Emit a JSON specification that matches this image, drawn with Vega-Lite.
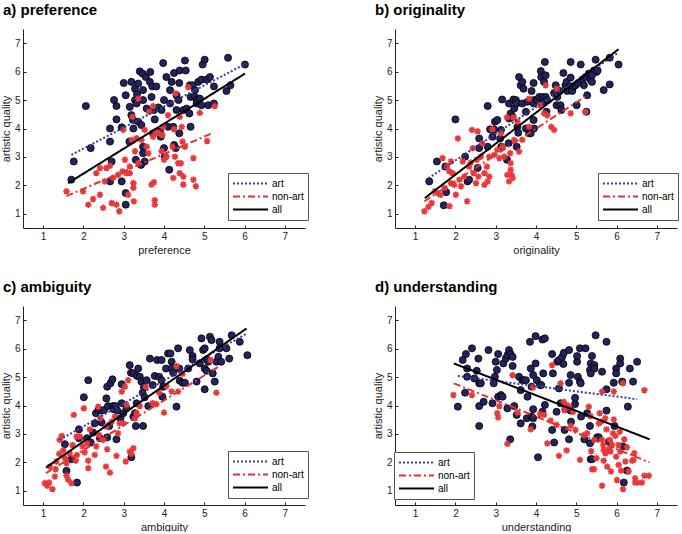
{
"$schema": "https://vega.github.io/schema/vega-lite/v6.json",
"padding": {"left": 0, "top": 3, "right": 0, "bottom": 0},
"config": {
  "font": "Liberation Sans",
  "view": {"stroke": null},
  "axis": {"grid": false, "domainColor": "#222222", "tickColor": "#222222", "tickSize": -3, "labelFontSize": 10, "labelColor": "#222222", "titleFontSize": 11, "titleFontWeight": "normal", "titleColor": "#222222", "labelPadding": 6, "titlePadding": 3},
  "title": {"fontSize": 15, "fontWeight": "bold", "anchor": "start", "frame": "group", "dx": -20, "offset": 11, "color": "#000000"},
  "legend": {"title": null, "orient": "none", "symbolType": "stroke", "symbolSize": 1225, "symbolStrokeWidth": 2, "clipHeight": 13, "labelFontSize": 10, "labelColor": "#000000", "strokeColor": "#555555", "fillColor": "#ffffff", "padding": 4, "labelOffset": 3, "rowPadding": 0}
},
"datasets": {
  "a_art": [{"x":1.70,"y":2.20},{"x":1.76,"y":2.84},{"x":2.06,"y":4.79},{"x":2.18,"y":3.31},{"x":2.66,"y":2.14},{"x":2.70,"y":2.84},{"x":2.66,"y":4.00},{"x":2.66,"y":3.54},{"x":2.76,"y":5.00},{"x":2.82,"y":4.79},{"x":2.82,"y":4.32},{"x":3.00,"y":5.60},{"x":3.05,"y":5.17},{"x":2.95,"y":4.04},{"x":2.95,"y":2.14},{"x":3.05,"y":1.73},{"x":3.05,"y":1.32},{"x":3.15,"y":4.76},{"x":3.19,"y":5.64},{"x":3.19,"y":4.47},{"x":3.23,"y":4.30},{"x":3.28,"y":5.40},{"x":3.28,"y":5.00},{"x":3.33,"y":5.21},{"x":3.32,"y":4.88},{"x":3.14,"y":3.54},{"x":3.30,"y":2.90},{"x":3.24,"y":4.00},{"x":3.36,"y":5.58},{"x":3.36,"y":4.24},{"x":3.40,"y":6.01},{"x":3.47,"y":5.93},{"x":3.48,"y":5.35},{"x":3.48,"y":5.00},{"x":3.44,"y":4.12},{"x":3.48,"y":3.36},{"x":3.48,"y":3.13},{"x":3.52,"y":2.84},{"x":3.43,"y":2.72},{"x":3.55,"y":5.81},{"x":3.57,"y":4.70},{"x":3.69,"y":5.11},{"x":3.66,"y":5.99},{"x":3.65,"y":5.64},{"x":3.71,"y":5.48},{"x":3.75,"y":4.65},{"x":3.73,"y":3.83},{"x":3.77,"y":4.32},{"x":3.81,"y":5.48},{"x":3.86,"y":4.74},{"x":3.90,"y":3.89},{"x":3.92,"y":3.71},{"x":3.94,"y":4.65},{"x":3.98,"y":6.30},{"x":4.00,"y":5.00},{"x":4.00,"y":3.31},{"x":4.02,"y":3.01},{"x":4.06,"y":5.81},{"x":4.15,"y":5.35},{"x":4.15,"y":4.88},{"x":4.10,"y":4.06},{"x":4.13,"y":2.55},{"x":4.19,"y":5.64},{"x":4.23,"y":4.06},{"x":4.25,"y":3.42},{"x":4.29,"y":3.31},{"x":4.25,"y":5.95},{"x":4.31,"y":5.17},{"x":4.31,"y":4.65},{"x":4.38,"y":3.83},{"x":4.38,"y":5.60},{"x":4.39,"y":6.04},{"x":4.36,"y":5.00},{"x":4.52,"y":6.39},{"x":4.54,"y":6.04},{"x":4.48,"y":4.65},{"x":4.56,"y":4.70},{"x":4.63,"y":4.53},{"x":4.64,"y":5.52},{"x":4.66,"y":5.11},{"x":4.66,"y":4.06},{"x":4.71,"y":5.52},{"x":4.77,"y":5.35},{"x":4.77,"y":5.11},{"x":4.81,"y":5.00},{"x":4.81,"y":4.88},{"x":4.89,"y":5.05},{"x":4.85,"y":5.64},{"x":4.93,"y":5.72},{"x":4.93,"y":4.82},{"x":4.96,"y":6.25},{"x":5.01,"y":6.42},{"x":5.06,"y":5.72},{"x":5.10,"y":4.82},{"x":5.14,"y":5.81},{"x":5.24,"y":5.48},{"x":5.24,"y":4.88},{"x":5.59,"y":6.49},{"x":5.55,"y":5.32},{"x":5.65,"y":5.52},{"x":6.01,"y":6.25}],
  "a_non": [{"x":1.58,"y":1.79},{"x":1.99,"y":1.79},{"x":2.12,"y":1.32},{"x":2.24,"y":1.52},{"x":2.32,"y":2.43},{"x":2.41,"y":1.67},{"x":2.41,"y":2.61},{"x":2.49,"y":1.21},{"x":2.53,"y":2.14},{"x":2.57,"y":2.61},{"x":2.70,"y":1.38},{"x":2.74,"y":2.26},{"x":2.82,"y":1.32},{"x":2.86,"y":2.37},{"x":2.89,"y":1.09},{"x":2.97,"y":2.49},{"x":3.03,"y":2.90},{"x":3.07,"y":2.43},{"x":3.11,"y":1.67},{"x":3.15,"y":2.43},{"x":3.15,"y":2.66},{"x":3.24,"y":2.08},{"x":3.25,"y":1.44},{"x":3.24,"y":1.91},{"x":3.28,"y":3.20},{"x":3.32,"y":3.66},{"x":3.36,"y":5.05},{"x":3.36,"y":2.78},{"x":3.44,"y":3.60},{"x":3.52,"y":3.95},{"x":3.57,"y":3.36},{"x":3.63,"y":4.59},{"x":3.61,"y":3.13},{"x":3.69,"y":2.03},{"x":3.75,"y":2.11},{"x":3.77,"y":1.48},{"x":3.77,"y":1.32},{"x":3.73,"y":4.79},{"x":3.73,"y":3.71},{"x":3.79,"y":3.89},{"x":3.88,"y":3.83},{"x":3.94,"y":3.20},{"x":3.96,"y":3.77},{"x":4.00,"y":2.90},{"x":4.06,"y":3.01},{"x":4.10,"y":4.47},{"x":4.21,"y":3.36},{"x":4.23,"y":2.26},{"x":4.25,"y":3.97},{"x":4.27,"y":3.01},{"x":4.29,"y":5.23},{"x":4.35,"y":2.78},{"x":4.39,"y":2.43},{"x":4.42,"y":2.78},{"x":4.39,"y":4.41},{"x":4.44,"y":4.06},{"x":4.46,"y":3.54},{"x":4.48,"y":2.03},{"x":4.48,"y":2.31},{"x":4.52,"y":3.36},{"x":4.60,"y":5.46},{"x":4.89,"y":4.55},{"x":4.73,"y":2.96},{"x":4.73,"y":2.20},{"x":4.79,"y":1.97},{"x":5.07,"y":3.56},{"x":5.26,"y":4.79},{"x":2.99,"y":3.95},{"x":3.98,"y":4.06},{"x":2.66,"y":2.69},{"x":3.20,"y":3.60},{"x":3.22,"y":4.41}],
  "a_lines": [{"s":"art","x":1.70,"y":3.07},{"s":"art","x":6.03,"y":6.28},{"s":"non-art","x":1.58,"y":1.62},{"s":"non-art","x":5.22,"y":3.85},{"s":"all","x":1.62,"y":2.08},{"s":"all","x":6.01,"y":5.93}],
  "b_art": [{"x":1.35,"y":2.14},{"x":1.54,"y":2.84},{"x":1.75,"y":2.66},{"x":1.77,"y":1.76},{"x":1.71,"y":1.30},{"x":2.00,"y":4.32},{"x":2.24,"y":3.01},{"x":2.30,"y":2.14},{"x":2.34,"y":2.20},{"x":2.59,"y":3.65},{"x":2.59,"y":3.31},{"x":2.55,"y":2.61},{"x":2.80,"y":4.79},{"x":2.80,"y":3.36},{"x":2.86,"y":3.97},{"x":2.92,"y":3.71},{"x":2.96,"y":3.97},{"x":2.98,"y":4.24},{"x":3.04,"y":4.30},{"x":3.11,"y":3.65},{"x":3.14,"y":3.36},{"x":3.16,"y":5.02},{"x":3.13,"y":3.95},{"x":3.28,"y":2.90},{"x":3.32,"y":3.48},{"x":3.33,"y":4.88},{"x":3.37,"y":4.53},{"x":3.42,"y":4.41},{"x":3.33,"y":4.35},{"x":3.44,"y":5.02},{"x":3.46,"y":4.70},{"x":3.50,"y":5.00},{"x":3.52,"y":4.88},{"x":3.54,"y":4.06},{"x":3.56,"y":3.85},{"x":3.52,"y":3.36},{"x":3.58,"y":5.81},{"x":3.62,"y":5.52},{"x":3.66,"y":5.64},{"x":3.69,"y":5.40},{"x":3.66,"y":4.88},{"x":3.75,"y":4.00},{"x":3.75,"y":4.59},{"x":3.79,"y":4.94},{"x":3.83,"y":3.83},{"x":3.89,"y":5.32},{"x":3.94,"y":5.60},{"x":3.95,"y":5.00},{"x":3.94,"y":4.88},{"x":3.94,"y":4.30},{"x":3.95,"y":4.00},{"x":3.87,"y":3.83},{"x":4.03,"y":5.00},{"x":4.08,"y":5.11},{"x":4.12,"y":6.02},{"x":4.13,"y":5.81},{"x":4.16,"y":5.11},{"x":4.20,"y":5.64},{"x":4.20,"y":4.94},{"x":4.22,"y":6.34},{"x":4.24,"y":5.87},{"x":4.24,"y":5.11},{"x":4.26,"y":4.59},{"x":4.28,"y":5.00},{"x":4.45,"y":5.25},{"x":4.49,"y":5.52},{"x":4.53,"y":5.11},{"x":4.51,"y":4.82},{"x":4.61,"y":4.82},{"x":4.63,"y":4.65},{"x":4.59,"y":5.32},{"x":4.68,"y":5.95},{"x":4.73,"y":5.52},{"x":4.76,"y":5.64},{"x":4.78,"y":5.32},{"x":4.84,"y":5.48},{"x":4.86,"y":6.34},{"x":4.86,"y":5.79},{"x":4.90,"y":5.32},{"x":4.94,"y":5.48},{"x":4.98,"y":5.52},{"x":5.01,"y":4.82},{"x":5.04,"y":5.60},{"x":5.11,"y":6.25},{"x":5.15,"y":5.72},{"x":5.19,"y":5.52},{"x":5.23,"y":5.81},{"x":5.25,"y":4.59},{"x":5.27,"y":5.17},{"x":5.31,"y":5.93},{"x":5.35,"y":5.72},{"x":5.39,"y":5.64},{"x":5.44,"y":6.04},{"x":5.48,"y":6.42},{"x":5.50,"y":5.99},{"x":5.53,"y":6.04},{"x":5.68,"y":5.35},{"x":5.83,"y":5.55},{"x":5.83,"y":6.49},{"x":6.05,"y":6.25},{"x":5.39,"y":5.87}],
  "b_non": [{"x":1.23,"y":1.09},{"x":1.33,"y":1.24},{"x":1.41,"y":1.38},{"x":1.49,"y":1.79},{"x":1.56,"y":1.73},{"x":1.63,"y":1.67},{"x":1.68,"y":2.96},{"x":1.73,"y":1.91},{"x":1.79,"y":2.66},{"x":1.85,"y":2.49},{"x":1.85,"y":1.27},{"x":1.89,"y":2.08},{"x":1.93,"y":2.43},{"x":1.97,"y":2.02},{"x":2.01,"y":1.67},{"x":2.06,"y":3.65},{"x":2.10,"y":2.20},{"x":2.14,"y":1.97},{"x":2.18,"y":2.84},{"x":2.22,"y":2.31},{"x":2.29,"y":1.44},{"x":2.34,"y":2.66},{"x":2.38,"y":2.80},{"x":2.41,"y":3.95},{"x":2.43,"y":3.31},{"x":2.45,"y":2.43},{"x":2.51,"y":2.08},{"x":2.53,"y":2.90},{"x":2.57,"y":2.31},{"x":2.63,"y":3.01},{"x":2.67,"y":3.48},{"x":2.72,"y":2.43},{"x":2.72,"y":2.02},{"x":2.78,"y":2.66},{"x":2.84,"y":3.01},{"x":2.84,"y":2.31},{"x":2.92,"y":3.97},{"x":2.96,"y":3.07},{"x":3.04,"y":3.25},{"x":3.09,"y":2.96},{"x":3.13,"y":3.83},{"x":3.17,"y":3.36},{"x":3.21,"y":3.01},{"x":3.28,"y":4.39},{"x":3.29,"y":2.37},{"x":3.33,"y":2.14},{"x":3.37,"y":2.78},{"x":3.37,"y":2.55},{"x":3.39,"y":2.37},{"x":3.42,"y":2.26},{"x":3.36,"y":3.13},{"x":3.44,"y":4.39},{"x":3.46,"y":3.60},{"x":3.54,"y":4.24},{"x":3.58,"y":3.19},{"x":3.66,"y":3.60},{"x":3.83,"y":4.06},{"x":3.83,"y":5.05},{"x":4.10,"y":4.82},{"x":4.20,"y":4.53},{"x":4.24,"y":5.52},{"x":4.28,"y":4.47},{"x":4.38,"y":4.06},{"x":4.45,"y":3.95},{"x":4.51,"y":5.40},{"x":4.86,"y":4.53},{"x":5.23,"y":4.59},{"x":2.55,"y":3.90},{"x":2.80,"y":2.14},{"x":1.89,"y":2.84}],
  "b_lines": [{"s":"art","x":1.33,"y":2.25},{"s":"art","x":6.03,"y":6.65},{"s":"non-art","x":1.23,"y":1.44},{"s":"non-art","x":5.25,"y":5.15},{"s":"all","x":1.24,"y":1.55},{"s":"all","x":6.05,"y":6.79}],
  "c_art": [{"x":1.54,"y":2.64},{"x":1.58,"y":1.70},{"x":1.70,"y":2.11},{"x":1.84,"y":1.29},{"x":1.89,"y":2.85},{"x":1.89,"y":3.16},{"x":2.01,"y":4.29},{"x":2.12,"y":4.89},{"x":2.09,"y":2.85},{"x":2.18,"y":2.70},{"x":2.24,"y":3.05},{"x":2.28,"y":3.37},{"x":2.31,"y":3.73},{"x":2.37,"y":3.84},{"x":2.41,"y":2.85},{"x":2.45,"y":3.82},{"x":2.45,"y":3.40},{"x":2.51,"y":3.84},{"x":2.57,"y":4.25},{"x":2.59,"y":4.66},{"x":2.61,"y":3.98},{"x":2.59,"y":2.88},{"x":2.64,"y":3.28},{"x":2.67,"y":4.78},{"x":2.72,"y":4.92},{"x":2.74,"y":3.98},{"x":2.75,"y":3.87},{"x":2.80,"y":3.98},{"x":2.84,"y":3.82},{"x":2.82,"y":2.81},{"x":2.92,"y":3.55},{"x":2.95,"y":4.75},{"x":2.95,"y":4.08},{"x":2.99,"y":3.73},{"x":3.07,"y":3.90},{"x":3.15,"y":5.42},{"x":3.18,"y":5.15},{"x":3.19,"y":2.18},{"x":3.24,"y":5.13},{"x":3.24,"y":3.61},{"x":3.28,"y":3.73},{"x":3.30,"y":3.28},{"x":3.32,"y":4.08},{"x":3.33,"y":5.04},{"x":3.36,"y":5.30},{"x":3.40,"y":5.01},{"x":3.44,"y":4.84},{"x":3.47,"y":4.45},{"x":3.48,"y":3.28},{"x":3.50,"y":4.66},{"x":3.52,"y":4.29},{"x":3.57,"y":4.89},{"x":3.61,"y":3.98},{"x":3.65,"y":5.65},{"x":3.72,"y":4.72},{"x":3.77,"y":5.04},{"x":3.83,"y":5.60},{"x":3.88,"y":5.01},{"x":3.94,"y":4.89},{"x":3.94,"y":5.60},{"x":3.96,"y":4.31},{"x":3.98,"y":4.66},{"x":4.05,"y":5.30},{"x":4.10,"y":5.83},{"x":4.16,"y":5.83},{"x":4.19,"y":5.54},{"x":4.19,"y":5.30},{"x":4.23,"y":5.15},{"x":4.31,"y":3.96},{"x":4.35,"y":6.01},{"x":4.38,"y":5.30},{"x":4.39,"y":4.87},{"x":4.46,"y":4.80},{"x":4.52,"y":4.80},{"x":4.60,"y":5.30},{"x":4.64,"y":5.95},{"x":4.71,"y":5.74},{"x":4.71,"y":5.62},{"x":4.81,"y":4.84},{"x":4.89,"y":5.48},{"x":4.93,"y":6.36},{"x":4.97,"y":5.95},{"x":5.01,"y":4.57},{"x":5.01,"y":6.01},{"x":5.06,"y":5.62},{"x":5.01,"y":5.30},{"x":5.06,"y":5.22},{"x":5.10,"y":5.54},{"x":5.14,"y":6.42},{"x":5.18,"y":6.30},{"x":5.21,"y":5.13},{"x":5.26,"y":4.84},{"x":5.30,"y":5.54},{"x":5.35,"y":5.71},{"x":5.38,"y":6.24},{"x":5.38,"y":6.01},{"x":5.42,"y":5.54},{"x":5.55,"y":6.01},{"x":5.62,"y":5.65},{"x":5.68,"y":6.47},{"x":5.88,"y":6.24},{"x":6.07,"y":5.77}],
  "c_non": [{"x":1.04,"y":1.27},{"x":1.10,"y":1.18},{"x":1.15,"y":1.29},{"x":1.23,"y":1.06},{"x":1.29,"y":1.50},{"x":1.31,"y":1.76},{"x":1.33,"y":2.03},{"x":1.40,"y":2.30},{"x":1.41,"y":2.79},{"x":1.46,"y":2.93},{"x":1.50,"y":2.42},{"x":1.54,"y":2.15},{"x":1.58,"y":1.97},{"x":1.58,"y":1.53},{"x":1.62,"y":1.39},{"x":1.70,"y":1.27},{"x":1.66,"y":2.32},{"x":1.73,"y":2.61},{"x":1.76,"y":3.67},{"x":1.81,"y":2.06},{"x":1.84,"y":2.26},{"x":1.91,"y":2.91},{"x":1.98,"y":2.56},{"x":2.01,"y":3.90},{"x":2.03,"y":2.35},{"x":2.09,"y":2.67},{"x":2.12,"y":2.06},{"x":2.12,"y":1.80},{"x":2.16,"y":3.16},{"x":2.28,"y":2.26},{"x":2.32,"y":2.56},{"x":2.37,"y":3.96},{"x":2.39,"y":2.96},{"x":2.42,"y":3.55},{"x":2.49,"y":2.79},{"x":2.56,"y":1.85},{"x":2.57,"y":3.26},{"x":2.59,"y":2.46},{"x":2.66,"y":1.64},{"x":2.70,"y":3.43},{"x":2.78,"y":3.61},{"x":2.82,"y":2.23},{"x":2.86,"y":3.02},{"x":2.95,"y":4.49},{"x":2.99,"y":3.37},{"x":3.03,"y":4.66},{"x":3.05,"y":2.03},{"x":3.11,"y":4.89},{"x":3.15,"y":2.38},{"x":3.19,"y":2.30},{"x":3.24,"y":2.50},{"x":3.28,"y":3.55},{"x":3.32,"y":3.73},{"x":3.40,"y":3.98},{"x":3.55,"y":4.66},{"x":3.72,"y":4.08},{"x":3.81,"y":4.05},{"x":3.88,"y":4.45},{"x":4.00,"y":3.75},{"x":4.06,"y":4.68},{"x":4.19,"y":4.49},{"x":4.31,"y":5.39},{"x":4.35,"y":4.49},{"x":4.46,"y":5.11},{"x":5.16,"y":5.60},{"x":5.30,"y":4.45},{"x":3.07,"y":4.02},{"x":2.90,"y":3.37},{"x":1.83,"y":2.91},{"x":1.17,"y":1.85}],
  "c_lines": [{"s":"art","x":1.41,"y":2.79},{"s":"art","x":6.05,"y":6.53},{"s":"non-art","x":1.07,"y":1.62},{"s":"non-art","x":5.35,"y":5.36},{"s":"all","x":1.07,"y":1.82},{"s":"all","x":6.05,"y":6.71}],
  "d_art": [{"x":2.06,"y":3.96},{"x":2.18,"y":5.60},{"x":2.26,"y":5.81},{"x":2.24,"y":4.45},{"x":2.29,"y":5.30},{"x":2.29,"y":5.01},{"x":2.41,"y":6.01},{"x":2.47,"y":4.95},{"x":2.53,"y":5.22},{"x":2.57,"y":5.65},{"x":2.59,"y":4.78},{"x":2.59,"y":3.98},{"x":2.59,"y":3.28},{"x":2.63,"y":4.78},{"x":2.70,"y":4.13},{"x":2.82,"y":5.95},{"x":2.92,"y":4.08},{"x":2.95,"y":4.78},{"x":2.98,"y":5.01},{"x":3.00,"y":5.54},{"x":3.03,"y":5.25},{"x":3.06,"y":5.81},{"x":3.06,"y":4.31},{"x":3.13,"y":4.37},{"x":3.17,"y":4.31},{"x":3.19,"y":5.48},{"x":3.25,"y":5.65},{"x":3.29,"y":5.77},{"x":3.33,"y":5.95},{"x":3.37,"y":5.81},{"x":3.42,"y":5.71},{"x":3.29,"y":3.90},{"x":3.36,"y":2.81},{"x":3.42,"y":5.39},{"x":3.46,"y":3.98},{"x":3.52,"y":3.67},{"x":3.58,"y":5.01},{"x":3.62,"y":3.37},{"x":3.62,"y":4.54},{"x":3.66,"y":4.89},{"x":3.70,"y":4.89},{"x":3.75,"y":4.89},{"x":3.77,"y":3.55},{"x":3.79,"y":4.31},{"x":3.85,"y":6.24},{"x":3.87,"y":5.30},{"x":3.89,"y":4.66},{"x":3.89,"y":3.61},{"x":3.91,"y":3.26},{"x":3.93,"y":5.07},{"x":3.93,"y":3.87},{"x":3.93,"y":3.55},{"x":3.99,"y":6.44},{"x":3.99,"y":5.48},{"x":4.02,"y":4.89},{"x":4.05,"y":2.18},{"x":4.10,"y":4.72},{"x":4.13,"y":4.72},{"x":4.16,"y":3.78},{"x":4.16,"y":6.32},{"x":4.22,"y":6.36},{"x":4.18,"y":5.13},{"x":4.22,"y":4.02},{"x":4.40,"y":3.14},{"x":4.40,"y":5.81},{"x":4.42,"y":5.13},{"x":4.45,"y":2.70},{"x":4.51,"y":3.78},{"x":4.53,"y":5.54},{"x":4.57,"y":5.60},{"x":4.57,"y":4.60},{"x":4.61,"y":4.08},{"x":4.65,"y":5.71},{"x":4.68,"y":5.46},{"x":4.69,"y":5.85},{"x":4.71,"y":3.14},{"x":4.73,"y":3.87},{"x":4.82,"y":5.95},{"x":4.82,"y":4.80},{"x":4.82,"y":2.81},{"x":4.86,"y":3.82},{"x":4.86,"y":5.07},{"x":4.87,"y":3.43},{"x":4.97,"y":4.05},{"x":4.97,"y":4.27},{"x":5.02,"y":5.54},{"x":5.02,"y":5.74},{"x":5.04,"y":5.01},{"x":5.09,"y":6.01},{"x":5.09,"y":4.84},{"x":5.11,"y":4.78},{"x":5.12,"y":3.61},{"x":5.20,"y":2.81},{"x":5.23,"y":6.01},{"x":5.27,"y":3.73},{"x":5.34,"y":3.28},{"x":5.34,"y":5.25},{"x":5.36,"y":5.48},{"x":5.36,"y":5.13},{"x":5.34,"y":2.67},{"x":5.36,"y":2.11},{"x":5.39,"y":2.11},{"x":5.39,"y":5.74},{"x":5.45,"y":5.42},{"x":5.45,"y":5.30},{"x":5.48,"y":6.47},{"x":5.52,"y":2.88},{"x":5.56,"y":2.88},{"x":5.64,"y":5.19},{"x":5.75,"y":6.24},{"x":5.75,"y":4.57},{"x":5.75,"y":3.82},{"x":5.81,"y":2.73},{"x":5.93,"y":4.80},{"x":5.95,"y":3.28},{"x":5.99,"y":5.30},{"x":5.99,"y":5.13},{"x":6.09,"y":5.65},{"x":6.09,"y":5.48},{"x":6.14,"y":4.84},{"x":6.16,"y":2.56},{"x":6.18,"y":1.29},{"x":6.26,"y":1.71},{"x":6.28,"y":3.96},{"x":6.33,"y":5.30},{"x":6.41,"y":4.84},{"x":6.51,"y":5.54}],
  "d_non": [{"x":1.95,"y":4.37},{"x":2.41,"y":4.37},{"x":3.04,"y":3.73},{"x":3.06,"y":3.58},{"x":3.09,"y":3.98},{"x":3.29,"y":2.65},{"x":3.42,"y":5.07},{"x":3.54,"y":3.75},{"x":3.87,"y":3.16},{"x":3.93,"y":4.64},{"x":4.10,"y":3.70},{"x":4.20,"y":3.67},{"x":4.28,"y":2.67},{"x":4.36,"y":3.47},{"x":4.40,"y":5.42},{"x":4.51,"y":3.32},{"x":4.57,"y":2.23},{"x":4.61,"y":4.78},{"x":4.69,"y":4.13},{"x":4.71,"y":3.84},{"x":4.76,"y":2.42},{"x":4.76,"y":4.02},{"x":4.82,"y":3.96},{"x":4.86,"y":3.28},{"x":4.92,"y":3.78},{"x":4.98,"y":3.14},{"x":5.09,"y":2.09},{"x":5.19,"y":2.96},{"x":5.27,"y":3.02},{"x":5.31,"y":3.96},{"x":5.35,"y":3.63},{"x":5.37,"y":2.39},{"x":5.39,"y":1.76},{"x":5.44,"y":1.76},{"x":5.45,"y":2.79},{"x":5.50,"y":2.15},{"x":5.56,"y":3.37},{"x":5.58,"y":3.73},{"x":5.62,"y":3.43},{"x":5.64,"y":2.79},{"x":5.64,"y":1.18},{"x":5.64,"y":4.49},{"x":5.67,"y":2.61},{"x":5.68,"y":2.44},{"x":5.68,"y":2.06},{"x":5.72,"y":2.32},{"x":5.72,"y":3.55},{"x":5.75,"y":3.16},{"x":5.77,"y":1.85},{"x":5.77,"y":2.38},{"x":5.81,"y":2.46},{"x":5.83,"y":2.79},{"x":5.85,"y":2.38},{"x":5.86,"y":1.68},{"x":5.89,"y":2.61},{"x":5.91,"y":3.02},{"x":5.93,"y":4.49},{"x":5.93,"y":3.51},{"x":5.97,"y":2.93},{"x":5.99,"y":2.20},{"x":6.01,"y":1.38},{"x":6.05,"y":2.61},{"x":6.05,"y":1.91},{"x":6.08,"y":3.08},{"x":6.09,"y":2.38},{"x":6.11,"y":1.71},{"x":6.16,"y":1.06},{"x":6.16,"y":4.78},{"x":6.19,"y":2.81},{"x":6.22,"y":2.03},{"x":6.26,"y":2.53},{"x":6.30,"y":1.68},{"x":6.39,"y":2.06},{"x":6.44,"y":2.32},{"x":6.46,"y":1.44},{"x":6.46,"y":1.29},{"x":6.52,"y":1.29},{"x":6.63,"y":1.29},{"x":6.69,"y":1.53},{"x":6.80,"y":1.53},{"x":6.69,"y":4.54},{"x":6.42,"y":2.09}],
  "d_lines": [{"s":"art","x":2.06,"y":5.04},{"s":"art","x":6.51,"y":4.22},{"s":"non-art","x":1.96,"y":4.78},{"s":"non-art","x":6.82,"y":2.00},{"s":"all","x":1.96,"y":5.48},{"s":"all","x":6.82,"y":2.81}]
},
"columns": 2,
"spacing": {"row": 78, "column": 90},
"bounds": "flush",
"resolve": {"scale": {"color": "independent", "strokeDash": "independent"}},
"concat": [
  {"width": 282, "height": 199, "title": {"text": "a) preference"},
   "encoding": {
     "x": {"field": "x", "type": "quantitative", "scale": {"domain": [0.5, 7.5], "nice": false, "zero": false}, "axis": {"values": [1,2,3,4,5,6,7], "title": "preference"}},
     "y": {"field": "y", "type": "quantitative", "scale": {"domain": [0.5, 7.5], "nice": false, "zero": false}, "axis": {"values": [1,2,3,4,5,6,7], "title": "artistic quality"}}},
   "layer": [
     {"data": {"name": "a_art"}, "mark": {"type": "point", "shape": "circle", "filled": true, "fill": "#24235e", "stroke": "#000000", "strokeWidth": 0.8, "size": 50, "opacity": 1}},
     {"data": {"name": "a_non"}, "mark": {"type": "point", "shape": "M-1,0L1,0M0,-1L0,1M-0.72,-0.72L0.72,0.72M-0.72,0.72L0.72,-0.72", "filled": false, "stroke": "#e8383a", "strokeWidth": 1.6, "size": 42, "opacity": 1}},
     {"data": {"name": "a_lines"}, "mark": {"type": "line", "strokeWidth": 2},
      "encoding": {
        "color": {"field": "s", "type": "nominal", "scale": {"domain": ["art", "non-art", "all"], "range": ["#3b3b9c", "#e03232", "#000000"]}, "legend": {"legendX": 205, "legendY": 144}},
        "strokeDash": {"field": "s", "type": "nominal", "scale": {"domain": ["art", "non-art", "all"], "range": [[2, 2], [7, 3, 2, 3], [1, 0]]}, "legend": {"legendX": 205, "legendY": 144}}}}
   ]},
  {"width": 282, "height": 199, "title": {"text": "b) originality"},
   "encoding": {
     "x": {"field": "x", "type": "quantitative", "scale": {"domain": [0.5, 7.5], "nice": false, "zero": false}, "axis": {"values": [1,2,3,4,5,6,7], "title": "originality"}},
     "y": {"field": "y", "type": "quantitative", "scale": {"domain": [0.5, 7.5], "nice": false, "zero": false}, "axis": {"values": [1,2,3,4,5,6,7], "title": "artistic quality"}}},
   "layer": [
     {"data": {"name": "b_art"}, "mark": {"type": "point", "shape": "circle", "filled": true, "fill": "#24235e", "stroke": "#000000", "strokeWidth": 0.8, "size": 50, "opacity": 1}},
     {"data": {"name": "b_non"}, "mark": {"type": "point", "shape": "M-1,0L1,0M0,-1L0,1M-0.72,-0.72L0.72,0.72M-0.72,0.72L0.72,-0.72", "filled": false, "stroke": "#e8383a", "strokeWidth": 1.6, "size": 42, "opacity": 1}},
     {"data": {"name": "b_lines"}, "mark": {"type": "line", "strokeWidth": 2},
      "encoding": {
        "color": {"field": "s", "type": "nominal", "scale": {"domain": ["art", "non-art", "all"], "range": ["#3b3b9c", "#e03232", "#000000"]}, "legend": {"legendX": 203, "legendY": 144}},
        "strokeDash": {"field": "s", "type": "nominal", "scale": {"domain": ["art", "non-art", "all"], "range": [[2, 2], [7, 3, 2, 3], [1, 0]]}, "legend": {"legendX": 203, "legendY": 144}}}}
   ]},
  {"width": 282, "height": 199, "title": {"text": "c) ambiguity"},
   "encoding": {
     "x": {"field": "x", "type": "quantitative", "scale": {"domain": [0.5, 7.5], "nice": false, "zero": false}, "axis": {"values": [1,2,3,4,5,6,7], "title": "ambiguity"}},
     "y": {"field": "y", "type": "quantitative", "scale": {"domain": [0.5, 7.5], "nice": false, "zero": false}, "axis": {"values": [1,2,3,4,5,6,7], "title": "artistic quality"}}},
   "layer": [
     {"data": {"name": "c_art"}, "mark": {"type": "point", "shape": "circle", "filled": true, "fill": "#24235e", "stroke": "#000000", "strokeWidth": 0.8, "size": 50, "opacity": 1}},
     {"data": {"name": "c_non"}, "mark": {"type": "point", "shape": "M-1,0L1,0M0,-1L0,1M-0.72,-0.72L0.72,0.72M-0.72,0.72L0.72,-0.72", "filled": false, "stroke": "#e8383a", "strokeWidth": 1.6, "size": 42, "opacity": 1}},
     {"data": {"name": "c_lines"}, "mark": {"type": "line", "strokeWidth": 2},
      "encoding": {
        "color": {"field": "s", "type": "nominal", "scale": {"domain": ["art", "non-art", "all"], "range": ["#3b3b9c", "#e03232", "#000000"]}, "legend": {"legendX": 205, "legendY": 145}},
        "strokeDash": {"field": "s", "type": "nominal", "scale": {"domain": ["art", "non-art", "all"], "range": [[2, 2], [7, 3, 2, 3], [1, 0]]}, "legend": {"legendX": 205, "legendY": 145}}}}
   ]},
  {"width": 282, "height": 199, "title": {"text": "d) understanding"},
   "encoding": {
     "x": {"field": "x", "type": "quantitative", "scale": {"domain": [0.5, 7.5], "nice": false, "zero": false}, "axis": {"values": [1,2,3,4,5,6,7], "title": "understanding"}},
     "y": {"field": "y", "type": "quantitative", "scale": {"domain": [0.5, 7.5], "nice": false, "zero": false}, "axis": {"values": [1,2,3,4,5,6,7], "title": "artistic quality"}}},
   "layer": [
     {"data": {"name": "d_art"}, "mark": {"type": "point", "shape": "circle", "filled": true, "fill": "#24235e", "stroke": "#000000", "strokeWidth": 0.8, "size": 50, "opacity": 1}},
     {"data": {"name": "d_non"}, "mark": {"type": "point", "shape": "M-1,0L1,0M0,-1L0,1M-0.72,-0.72L0.72,0.72M-0.72,0.72L0.72,-0.72", "filled": false, "stroke": "#e8383a", "strokeWidth": 1.6, "size": 42, "opacity": 1}},
     {"data": {"name": "d_lines"}, "mark": {"type": "line", "strokeWidth": 2},
      "encoding": {
        "color": {"field": "s", "type": "nominal", "scale": {"domain": ["art", "non-art", "all"], "range": ["#3b3b9c", "#e03232", "#000000"]}, "legend": {"legendX": -1, "legendY": 146}},
        "strokeDash": {"field": "s", "type": "nominal", "scale": {"domain": ["art", "non-art", "all"], "range": [[2, 2], [7, 3, 2, 3], [1, 0]]}, "legend": {"legendX": -1, "legendY": 146}}}}
   ]}
]
}
